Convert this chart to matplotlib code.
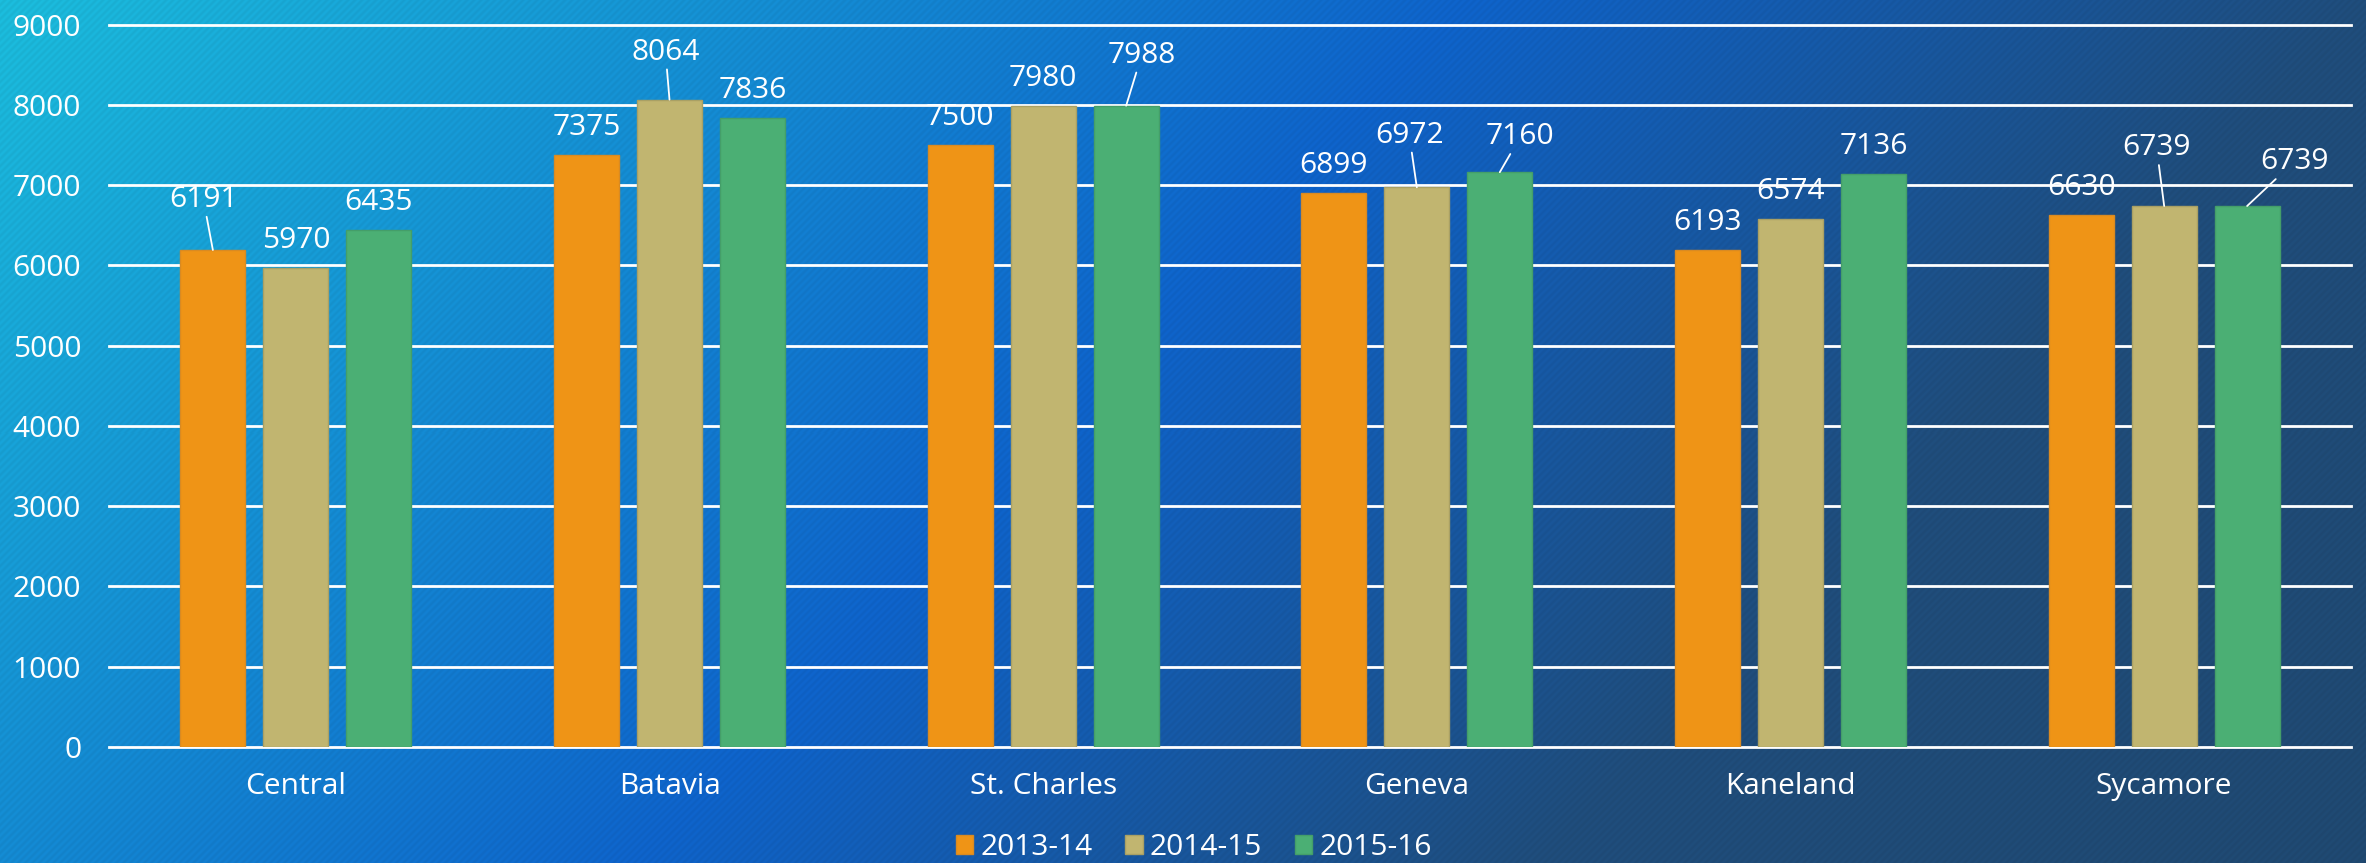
import numpy as np
import matplotlib
matplotlib.use("Agg")
import matplotlib.pyplot as plt
from matplotlib.colors import to_rgb

# ---------------- data ----------------
categories = ["Central", "Batavia", "St. Charles", "Geneva", "Kaneland", "Sycamore"]
series_names = ["2013-14", "2014-15", "2015-16"]
v2013_14 = [6191, 7375, 7500, 6899, 6193, 6630]
v2014_15 = [5970, 8064, 7980, 6972, 6574, 6739]
v2015_16 = [6435, 7836, 7988, 7160, 7136, 6739]
yticks = [0, 1000, 2000, 3000, 4000, 5000, 6000, 7000, 8000, 9000]

series = [v2013_14, v2014_15, v2015_16]
colors = ["#EF9416", "#C1B570", "#4BAF74"]
edges = ["#D98A22", "#A9A064", "#449E69"]

# label placement (pixels, relative to bar top); entries with a leader line
leader_offsets = {
    (0, 0): (-9.5, 43),
    (1, 1): (-4, 40),
    (2, 2): (15.5, 43),
    (1, 3): (-7.5, 44.5),
    (2, 3): (20.5, 28),
    (1, 5): (-7.5, 50.7),
    (2, 5): (47, 36.7),
}
default_offset = (0, 20)

plt.rcParams["font.family"] = ["Open Sans", "DejaVu Sans"]
FS = 21.5

W, H = 2366, 863
fig = plt.figure(figsize=(W / 100, H / 100), dpi=100)

# ---------------- background gradient ----------------
bg = fig.add_axes([0, 0, 1, 1], zorder=-10)
yy, xx = np.mgrid[0:H, 0:W].astype(float)
t = xx / W + 0.35 * yy / H
stops = [(0.0, "#1BBAD9"), (0.62, "#0E62C8"), (1.0, "#1F4C7A"), (1.35, "#1F4870")]
pos = [s[0] for s in stops]
cols = np.array([to_rgb(s[1]) for s in stops])
img = np.zeros((H, W, 3))
for c in range(3):
    img[..., c] = np.interp(t, pos, cols[:, c])
stripes = np.sin(2 * np.pi * (xx + yy) / 7.0)
img = np.clip(img * (1 + 0.025 * stripes[..., None]), 0, 1)
bg.imshow(img, aspect="auto", extent=[0, 1, 0, 1], interpolation="nearest")
bg.set_axis_off()

# ---------------- main axes ----------------
left, right = 109, 2351
y0, y9000 = 747, 24.5
ax = fig.add_axes([left / W, 1 - y0 / H, (right - left) / W, (y0 - y9000) / H])
ax.set_facecolor("none")
ax.set_xlim(-0.5, len(categories) - 0.5)
ax.set_ylim(0, 9000)
for s in ax.spines.values():
    s.set_visible(False)

x = np.arange(len(categories))
bw = 0.174
step = 0.222
handles = []
for i, vals in enumerate(series):
    xs = x + (i - 1) * step
    b = ax.bar(xs, vals, width=bw, color=colors[i], edgecolor=edges[i],
               linewidth=1.0, zorder=3, label=series_names[i])
    handles.append(b)
    for j, v in enumerate(vals):
        if (i, j) in leader_offsets:
            dx, dy = leader_offsets[(i, j)]
            ap = dict(arrowstyle="-", color="white", lw=1.3, shrinkA=0, shrinkB=0)
        else:
            dx, dy = default_offset
            ap = None
        ax.annotate(str(v), xy=(xs[j], v), xytext=(dx, dy), textcoords="offset pixels",
                    ha="center", va="baseline", color="white", fontsize=FS,
                    arrowprops=ap, zorder=5, annotation_clip=False)

ax.set_yticks(yticks)
ax.set_yticklabels([str(v) for v in yticks])
ax.set_xticks(x)
ax.set_xticklabels(categories)
ax.tick_params(axis="both", length=0, colors="white", labelsize=FS)
ax.tick_params(axis="y", pad=20)
ax.tick_params(axis="x", pad=18)
ax.yaxis.grid(True, color="white", linewidth=2.0, zorder=1)
ax.set_axisbelow(True)
for gl in ax.get_ygridlines():
    gl.set_clip_on(False)

leg = ax.legend(handles=handles, labels=series_names, loc="center",
                bbox_to_anchor=(1194 / W, 1 - 847.5 / H), bbox_transform=fig.transFigure,
                ncol=3, frameon=False, fontsize=FS, handlelength=0.58, handleheight=0.58,
                handletextpad=0.24, columnspacing=1.1, borderpad=0, labelcolor="white")

fig.savefig("out.png", dpi=100)
